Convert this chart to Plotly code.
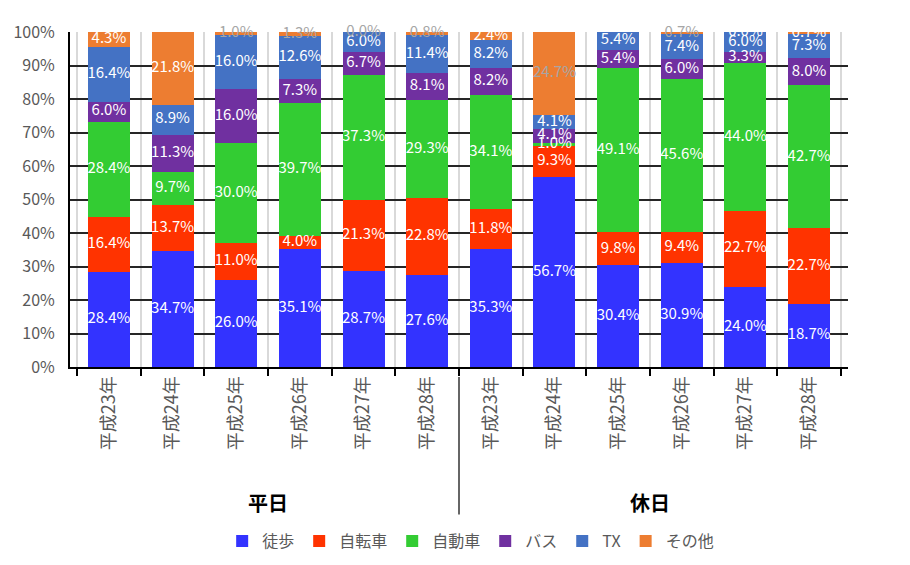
import plotly.graph_objects as go

years = ["平成23年", "平成24年", "平成25年", "平成26年", "平成27年", "平成28年"]
groups = ["平日", "休日"]
# unique category keys (zero-width space distinguishes 休日)
categories = years + [y + "\u200b" for y in years]

series_names = ["徒歩", "自転車", "自動車", "バス", "TX", "その他"]
walk =  [28.4, 34.7, 26.0, 35.1, 28.7, 27.6, 35.3, 56.7, 30.4, 30.9, 24.0, 18.7]
bike =  [16.4, 13.7, 11.0, 4.0, 21.3, 22.8, 11.8, 9.3, 9.8, 9.4, 22.7, 22.7]
car =   [28.4, 9.7, 30.0, 39.7, 37.3, 29.3, 34.1, 1.0, 49.1, 45.6, 44.0, 42.7]
bus =   [6.0, 11.3, 16.0, 7.3, 6.7, 8.1, 8.2, 4.1, 5.4, 6.0, 3.3, 8.0]
tx =    [16.4, 8.9, 16.0, 12.6, 6.0, 11.4, 8.2, 4.1, 5.4, 7.4, 6.0, 7.3]
other = [4.3, 21.8, 1.0, 1.3, 0.0, 0.8, 2.4, 24.7, 0.0, 0.7, 0.0, 0.7]
# which その他 labels are rendered in grey in the original
other_grey = [False, False, True, True, True, True, False, True, True, True, False, False]

colors = ["#3333FF", "#FF3300", "#33CC33", "#7030A0", "#4472C4", "#ED7D31"]
series = [walk, bike, car, bus, tx, other]

FONT = "Noto Sans CJK JP"
fig = go.Figure()
for name, vals, col in zip(series_names, series, colors):
    fig.add_trace(go.Bar(
        x=categories, y=vals, name=name, marker=dict(color=col, line=dict(width=0)),
        width=0.66, hoverinfo="skip",
    ))

# data labels at segment centres
lx, ly, lt, lc = [], [], [], []
cum = [0.0] * len(categories)
for si, vals in enumerate(series):
    for i, v in enumerate(vals):
        lx.append(categories[i])
        ly.append(cum[i] + v / 2)
        lt.append(f"{v:.1f}%")
        if si == 5 and other_grey[i]:
            lc.append("#A6A6A6")
        else:
            lc.append("#FFFFFF")
        cum[i] += v
fig.add_trace(go.Scatter(
    x=lx, y=ly, text=lt, mode="text", textposition="middle center",
    textfont=dict(color=lc, size=15, family=FONT), showlegend=False,
    cliponaxis=False, hoverinfo="skip",
))

fig.update_layout(
    barmode="stack",
    width=910, height=565,
    margin=dict(l=62, r=70, t=24, b=206, autoexpand=False),
    plot_bgcolor="white", paper_bgcolor="white",
    font=dict(family=FONT, color="#595959"),
    bargap=0.34,
    legend=dict(orientation="h", x=0.515, xanchor="center", y=-0.52, yanchor="middle",
                font=dict(size=16, color="#595959", family=FONT), traceorder="normal",
                itemwidth=30),
    xaxis=dict(
        type="category", categoryorder="array", categoryarray=categories,
        tickson="boundaries", ticks="outside", ticklen=7, tickwidth=1.5, tickcolor="black",
        showline=True, linecolor="black", linewidth=2,
        showgrid=True, gridcolor="#D9D9D9", gridwidth=1.5,
        tickangle=-90, tickfont=dict(size=18, color="#595959", family=FONT),
        automargin=False,
    ),
    yaxis=dict(
        range=[0, 100], dtick=10, ticksuffix="%",
        showline=True, linecolor="black", linewidth=2,
        showgrid=True, gridcolor="#262626", gridwidth=1.5,
        tickfont=dict(size=16, color="#595959", family=FONT),
        ticklabelstandoff=10,
        zeroline=False, fixedrange=True, automargin=False,
    ),
)

# separator between groups
fig.add_shape(type="line", xref="x", yref="paper", x0=5.5, x1=5.5, y0=-0.03, y1=-0.44,
              line=dict(color="#333333", width=1.5))
# group labels
for gi, g in enumerate(groups):
    fig.add_annotation(x=2.5 + 6 * gi, y=-0.455, xref="x", yref="paper", text=f"<b>{g}</b>",
                       showarrow=False, font=dict(size=20, color="black", family=FONT))

fig.write_html("out.html")
